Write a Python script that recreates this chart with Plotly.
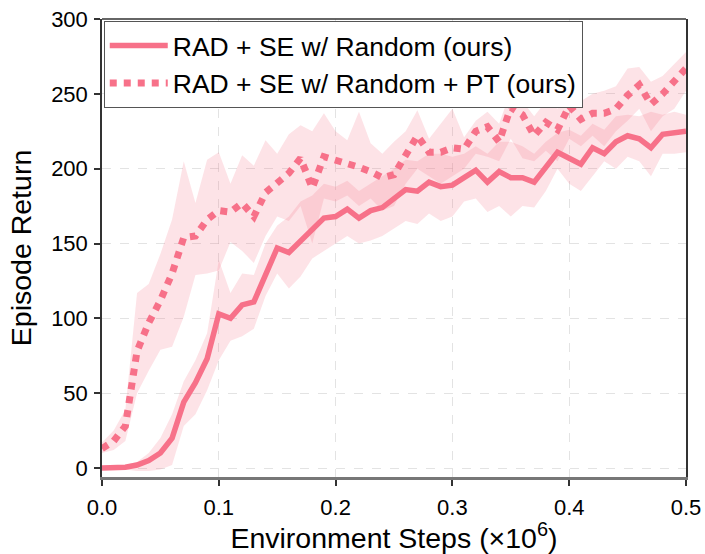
import plotly.graph_objects as go

steps = [round(i * 0.01, 2) for i in range(51)]

se_mean = [0, 0, 0.5, 2, 5, 10, 20, 44, 57, 73, 103, 100, 109, 111, 128, 147, 144, 152, 160, 167,
           168, 173, 167, 172, 174, 180, 186, 185, 191, 188, 189, 194, 199, 191, 198, 194, 194, 191,
           201, 211, 207, 203, 214, 210, 218, 222, 220, 214, 223, 224, 225]
se_low = [0, 0, -1, -2, -2, -1, 2, 28, 36, 52, 72, 85, 88, 93, 115, 130, 120, 128, 140, 145,
          150, 155, 150, 152, 155, 160, 165, 163, 170, 165, 168, 178, 180, 171, 175, 168, 175, 174,
          185, 200, 190, 185, 195, 205, 200, 208, 205, 195, 210, 210, 211]
se_high = [1, 1, 2, 4, 10, 20, 36, 58, 72, 90, 139, 117, 130, 129, 150, 162, 168, 178, 182, 190,
           188, 192, 185, 190, 195, 200, 206, 205, 210, 210, 208, 210, 215, 210, 218, 218, 215, 210,
           218, 224, 226, 222, 230, 226, 235, 236, 235, 238, 236, 238, 236]

pt_mean = [13, 18, 28, 78, 97, 112, 130, 154, 155, 166, 172, 171, 177, 168, 184, 190, 197, 207, 187, 208,
           206, 204, 201, 198, 194, 196, 210, 222, 211, 211, 214, 213, 225, 228, 218, 241, 236, 222,
           231, 226, 242, 233, 237, 237, 240, 249, 256, 243, 250, 258, 267]
pt_low = [10, 12, 18, 50, 65, 79, 81, 101, 129, 130, 132, 151, 145, 137, 155, 168, 165, 175, 150, 180,
          178, 182, 175, 180, 172, 175, 190, 200, 195, 190, 195, 200, 210, 208, 205, 220, 207, 205,
          212, 205, 220, 215, 222, 215, 225, 232, 240, 225, 235, 240, 252]
pt_high = [17, 25, 39, 117, 123, 143, 166, 205, 177, 206, 211, 190, 209, 202, 219, 210, 223, 229, 225, 237,
           225, 219, 238, 217, 210, 218, 225, 239, 220, 230, 240, 221, 232, 238, 230, 252, 245, 235,
           245, 240, 259, 245, 250, 252, 255, 267, 268, 258, 262, 270, 278]

labels = ["RAD + SE w/ Random (ours)", "RAD + SE w/ Random + PT (ours)"]
x_ticks = [0.0, 0.1, 0.2, 0.3, 0.4, 0.5]
y_ticks = [0, 50, 100, 150, 200, 250, 300]

color = "#f77189"
band = "rgba(247,113,137,0.2)"

fig = go.Figure()
for lo, hi in [(se_low, se_high), (pt_low, pt_high)]:
    fig.add_trace(go.Scatter(
        x=steps + steps[::-1], y=hi + lo[::-1], fill="toself", fillcolor=band,
        line=dict(width=0, color="rgba(0,0,0,0)"), mode="lines",
        hoverinfo="skip", showlegend=False))

fig.add_trace(go.Scatter(x=steps, y=se_mean, mode="lines", name=labels[0],
                         line=dict(color=color, width=5.5)))
fig.add_trace(go.Scatter(x=steps, y=pt_mean, mode="lines", name=labels[1],
                         line=dict(color=color, width=7, dash="dot")))

axis_common = dict(
    ticks="outside", ticklen=6, tickwidth=1.5, tickcolor="#333333",
    showgrid=True, gridcolor="rgba(200,200,200,0.5)", griddash="dash", gridwidth=1,
    zeroline=False, tickfont=dict(size=22, color="black"), automargin=False,
)

fig.update_layout(
    width=705, height=554,
    margin=dict(l=102, r=19, t=19, b=77),
    paper_bgcolor="white", plot_bgcolor="white",
    font=dict(family="Liberation Sans, Arial, sans-serif", color="black"),
    xaxis=dict(range=[0, 0.5], tickvals=x_ticks, tickformat=".1f", ticklabelstandoff=3,
               showline=True, linecolor="#777777", linewidth=2.5, mirror=False,
               title=dict(text="Environment Steps (×10<sup>6</sup>)", font=dict(size=28.5), standoff=8),
               **axis_common),
    yaxis=dict(range=[-6, 300], tickvals=y_ticks, ticklabelstandoff=2,
               showline=True, linecolor="#333333", linewidth=1.5, mirror=True,
               title=dict(text="Episode Return", font=dict(size=28.5), standoff=11),
               **axis_common),
    shapes=[dict(type="line", xref="paper", yref="paper", x0=0, x1=1, y0=1, y1=1,
                 line=dict(color="#333333", width=1.5))],
    legend=dict(x=0.003, y=0.996, xanchor="left", yanchor="top",
                bgcolor="white", bordercolor="#555555", borderwidth=1,
                font=dict(size=26.5, color="black"), itemwidth=58, tracegroupgap=0),
    showlegend=True,
)

fig.write_html("out.html")
